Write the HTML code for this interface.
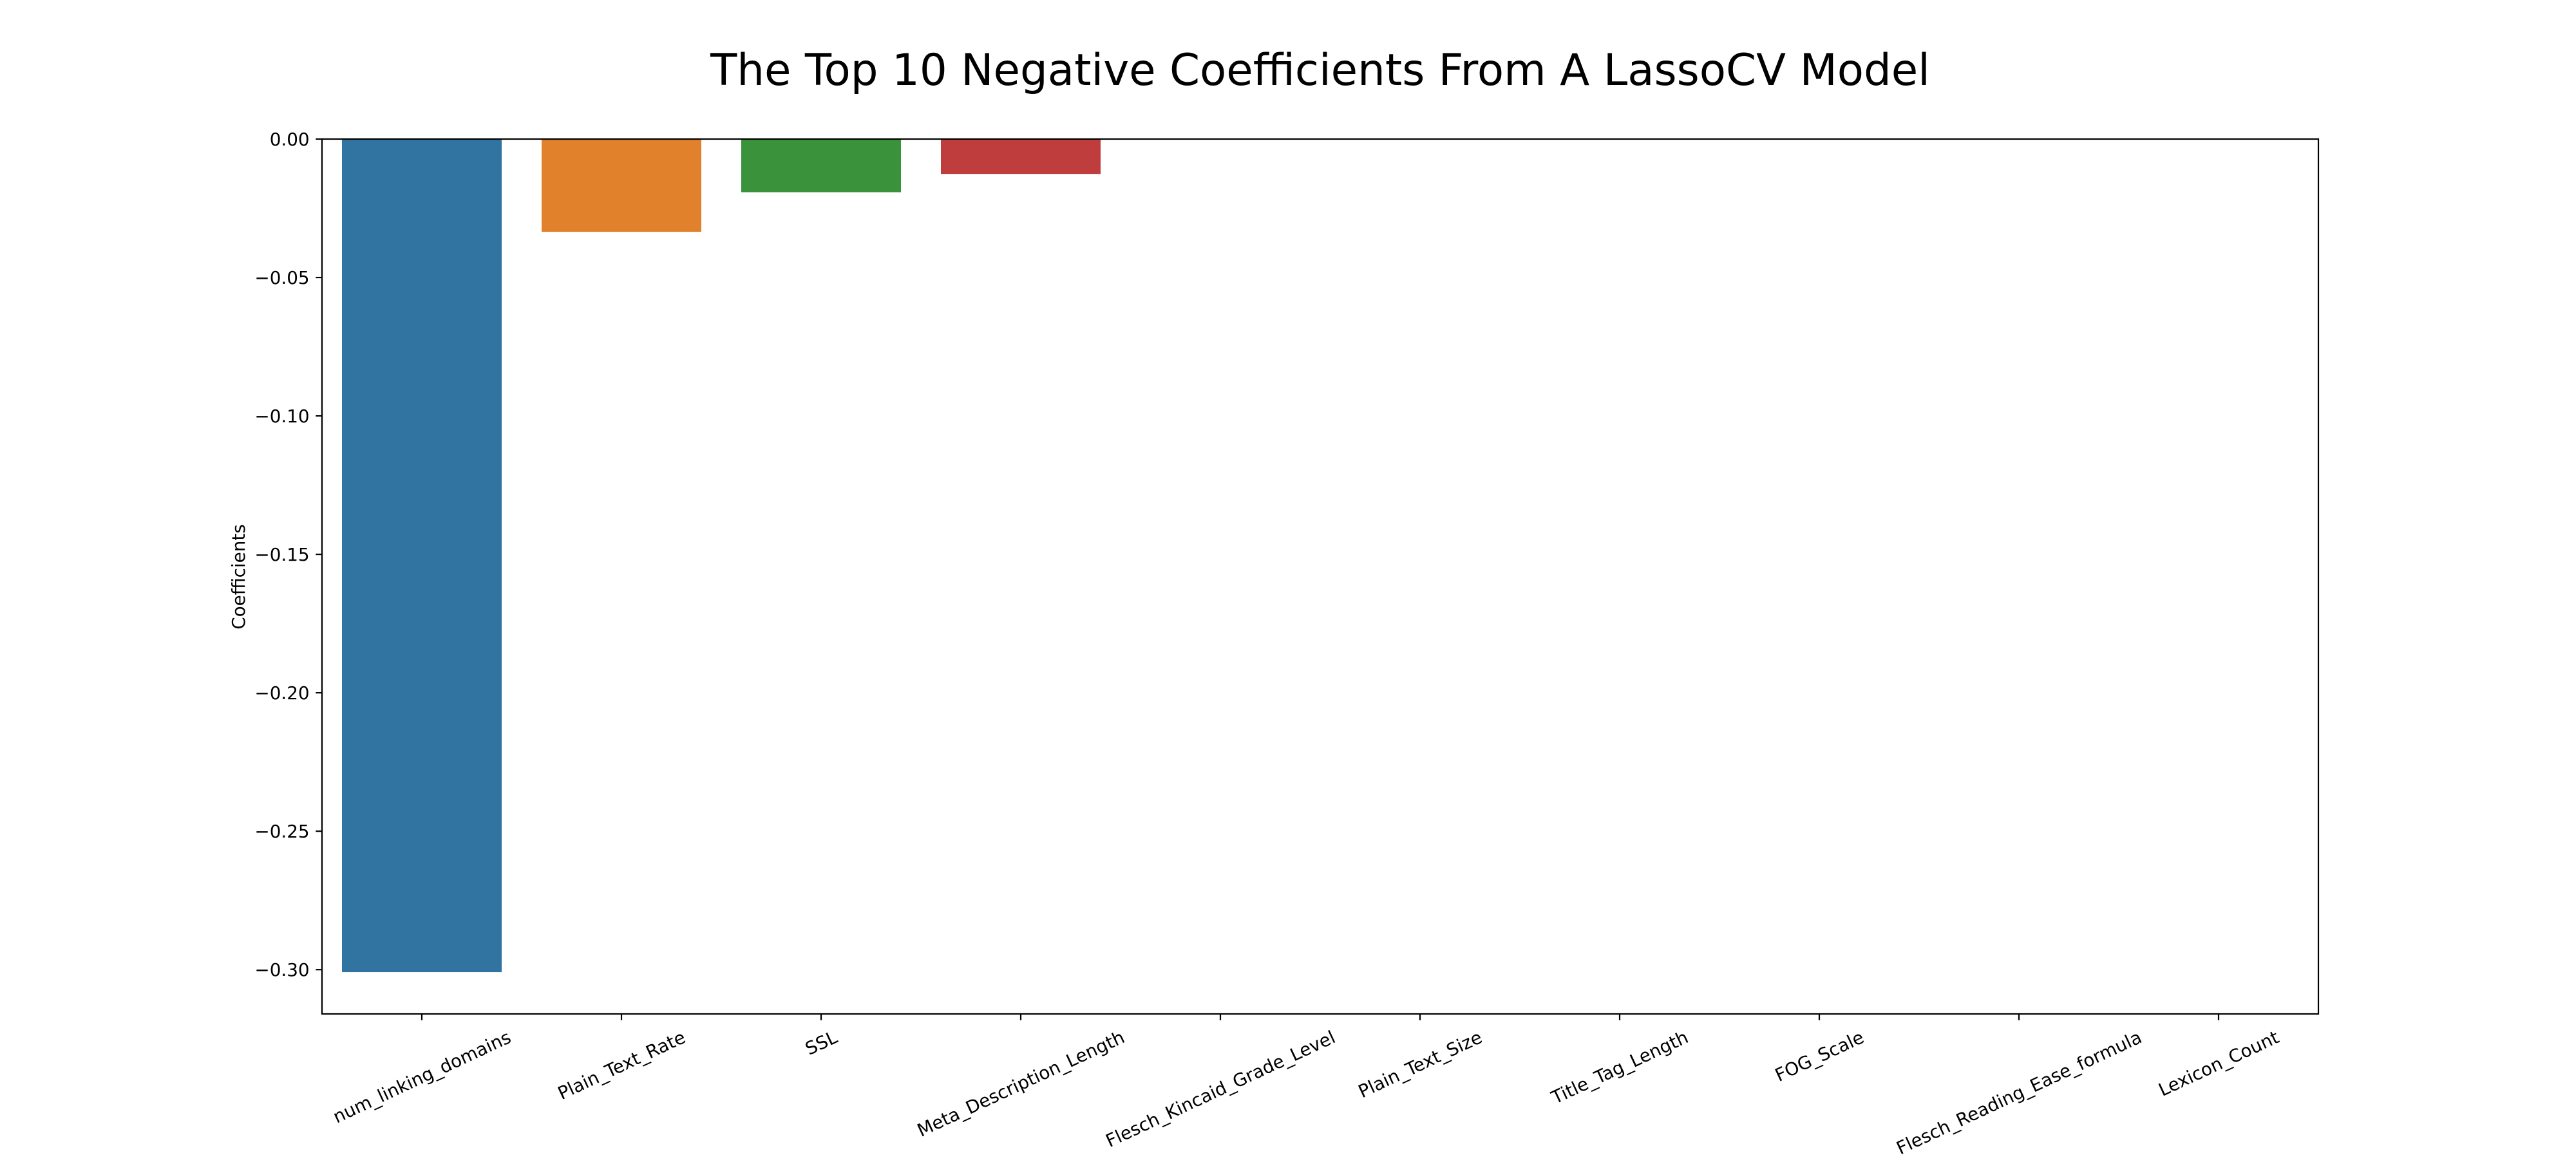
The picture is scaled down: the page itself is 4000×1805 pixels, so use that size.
<!DOCTYPE html>
<html><head><meta charset="utf-8"><style>
html,body{margin:0;padding:0;background:#fff}
svg text{font-family:"DejaVu Sans","Liberation Sans",sans-serif;fill:#000}
</style></head><body>
<svg id="chart" width="4000" height="1800" xmlns="http://www.w3.org/2000/svg">
<rect width="4000" height="1800" fill="#fff"/>
<text x="2050" y="132" font-size="67.4" text-anchor="middle">The Top 10 Negative Coefficients From A LassoCV Model</text>
<text transform="translate(380,896) rotate(-90)" font-size="27.8" text-anchor="middle">Coefficients</text>
<g id="bars"></g><g id="yticks"></g><g id="xticks"></g>
<rect x="500" y="216" width="3100" height="1359" fill="none" stroke="#000" stroke-width="2.2"/>
</svg>
<script>
const categories = ["num_linking_domains","Plain_Text_Rate","SSL","Meta_Description_Length","Flesch_Kincaid_Grade_Level","Plain_Text_Size","Title_Tag_Length","FOG_Scale","Flesch_Reading_Ease_formula","Lexicon_Count"];
const values = [-0.3009,-0.0335,-0.0192,-0.0126,0,0,0,0,0,0];
const colors = ["#3274a1","#e1812c","#3a923a","#c03d3e","#9372b2","#845b53","#d684bd","#7f7f7f","#a9aa35","#2fbdce"];
const yTicks = [0,-0.05,-0.10,-0.15,-0.20,-0.25,-0.30];
const yTickLabels = ["0.00","\u22120.05","\u22120.10","\u22120.15","\u22120.20","\u22120.25","\u22120.30"];
const yMin = -0.316, yMax = 0;
const L=500,R=3600,T=216,B=1575;
const NS="http://www.w3.org/2000/svg";
function y(v){return T+(yMax-v)/(yMax-yMin)*(B-T);}
const band=(R-L)/categories.length;
function xc(i){return L+band*(i+0.5);}
function mk(tag,attrs,parent){const e=document.createElementNS(NS,tag);for(const k in attrs)e.setAttribute(k,attrs[k]);parent.appendChild(e);return e;}
const gb=document.getElementById('bars'),gy=document.getElementById('yticks'),gx=document.getElementById('xticks');
values.forEach((v,i)=>{
  const y0=y(0),y1=y(v);
  const r=mk('rect',{x:xc(i)-band*0.4,y:Math.min(y0,y1),width:band*0.8,height:Math.abs(y1-y0),fill:colors[i]},gb);
  
  
});
yTicks.forEach((t,i)=>{
  const ln=mk('line',{x1:L-9.7,x2:L,y1:y(t),y2:y(t),stroke:'#000','stroke-width':2.2},gy);
  
  
  const tx=mk('text',{x:L-19.4,y:y(t)+10,'font-size':27.8,'text-anchor':'end'},gy);
  tx.textContent=yTickLabels[i];
  
  
});
const ang=25*Math.PI/180;
categories.forEach((c,i)=>{
  const ln=mk('line',{x1:xc(i),x2:xc(i),y1:B,y2:B+9.7,stroke:'#000','stroke-width':2.2},gx);
  
  
  const tx=mk('text',{'font-size':27.8,'text-anchor':'middle'},gx);
  tx.textContent=c;
  
  
  const w=tx.getComputedTextLength(),h=32;
  const bh=w*Math.sin(ang)+h*Math.cos(ang);
  const cy=B+19.4+bh/2;
  tx.setAttribute('transform','translate('+xc(i)+','+cy+') rotate(-25)');
  tx.setAttribute('y',10);
});
</script>
</body></html>
